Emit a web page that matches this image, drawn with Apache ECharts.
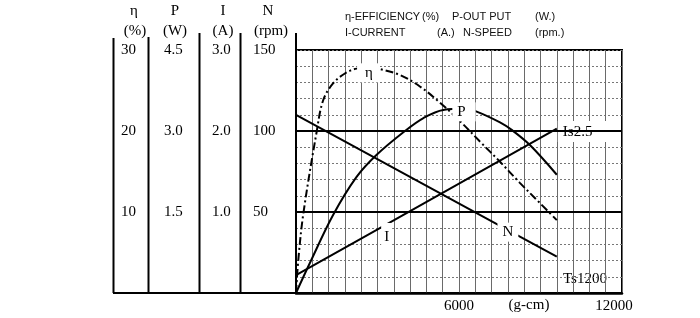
<!DOCTYPE html>
<html><head><meta charset="utf-8">
<script src="https://cdn.jsdelivr.net/npm/echarts@6/dist/echarts.min.js"></script>
<style>html,body{margin:0;padding:0;background:#fff}#c{width:700px;height:318px}</style>
</head><body><div id="c"></div>
<script>
// ---- data (torque in g-cm) ----
const effTorque = [0, 85, 270, 760, 1000, 1370, 1800, 2230, 2650, 3020, 3830, 4560, 5300, 6040, 6770, 7510, 8240, 8980, 9600];
const effValues = [0, 4.1, 9.8, 19.9, 23.8, 25.9, 27.1, 27.7, 27.8, 27.7, 26.9, 25.5, 23.5, 21.2, 18.7, 16.2, 13.6, 11.1, 9.0];
const powTorque = [0, 515, 1360, 2230, 2970, 4010, 4690, 5420, 6220, 6650, 7510, 7940, 8610, 9600];
const powValues = [0, 0.56, 1.44, 2.15, 2.56, 3.0, 3.24, 3.39, 3.41, 3.36, 3.16, 3.02, 2.74, 2.19];
const curTorque = [0, 3300, 9600];
const curValues = [0.22, 0.84, 2.03];
const spdTorque = [0, 7800, 9600];
const spdValues = [110, 38.8, 22.4];
const refSpeeds = [50, 100];
const xTickLabels = [6000, 12000];
const effLabelIdx = 8, powLabelIdx = 8, curLabelIdx = 1, spdLabelIdx = 1;

const serif = 'Liberation Serif';
const titleFont = 'Liberation Sans';

function build(ts, vs, idx, label) {
  return ts.map((t, i) => {
    const it = { value: [t, vs[i]] };
    if (i === idx) it.label = Object.assign({ show: true, position: 'inside', color: '#000',
      fontFamily: serif, fontSize: 15, backgroundColor: '#fff' }, label);
    return it;
  });
}

const chart = echarts.init(document.getElementById('c'), null, { renderer: 'canvas' });

function tableAxis(max, interval, offset, margin, dec) {
  return {
    type: 'value', min: 0, max: max, interval: interval, position: 'left', offset: offset,
    axisLine: { show: false }, axisTick: { show: false }, splitLine: { show: false },
    axisLabel: { inside: true, margin: margin, showMinLabel: false, color: '#000',
      fontFamily: serif, fontSize: 15,
      formatter: v => v === 0 ? '' : (dec ? v.toFixed(1) : String(v)) }
  };
}

const lineBase = { type: 'line', symbol: 'circle', symbolSize: 0, showSymbol: true, silent: true,
  itemStyle: { color: '#000' } };

const option = {
  animation: false,
  backgroundColor: '#fff',
  grid: { left: 296, right: 78, top: 50, bottom: 25, show: true, borderColor: '#000', borderWidth: 2,
    backgroundColor: 'transparent' },
  xAxis: {
    type: 'value', min: 0, max: 12000, interval: 600,
    axisLine: { show: true, lineStyle: { color: '#000', width: 2.5 } },
    axisTick: { show: false },
    splitLine: { show: true, lineStyle: { color: '#6a6a6a', width: 1 } },
    axisLabel: { show: true, showMaxLabel: true, margin: 6, color: '#000', fontFamily: serif, fontSize: 15,
      formatter: v => xTickLabels.indexOf(v) < 0 ? '' : (v === 12000 ? '{r|' + v + '}' : String(v)),
      rich: { r: { fontFamily: serif, fontSize: 15, color: '#000', padding: [0, 16, 0, 0] } } }
  },
  yAxis: [
    tableAxis(30, 10, 183, 8, false),
    tableAxis(4.5, 1.5, 148, 16, true),
    tableAxis(3, 1, 97, 13, true),
    tableAxis(150, 50, 56, 13, false),
    { type: 'value', min: 0, max: 150, interval: 10, position: 'left', offset: 0,
      axisLine: { show: true, lineStyle: { color: '#000', width: 2 } }, axisTick: { show: false },
      axisLabel: { show: false },
      splitLine: { show: true, lineStyle: { color: '#777', width: 1, type: [2, 2] } } }
  ],
  series: [
    Object.assign({}, lineBase, { name: 'eta', yAxisIndex: 0, smooth: 0.35,
      lineStyle: { color: '#000', width: 2, type: [8, 3, 2, 3] },
      data: build(effTorque, effValues, effLabelIdx, { formatter: 'η', offset: [0, 5], padding: [2, 6, 2, 8] }) }),
    Object.assign({}, lineBase, { name: 'P', yAxisIndex: 1, smooth: 0.35,
      lineStyle: { color: '#000', width: 2 },
      data: build(powTorque, powValues, powLabelIdx, { formatter: 'P', offset: [-1, 3], padding: [2, 10, 2, 5] }) }),
    Object.assign({}, lineBase, { name: 'I', yAxisIndex: 2,
      lineStyle: { color: '#000', width: 2 },
      endLabel: { show: true, formatter: 'Is2.5', distance: 1, offset: [0, 3], color: '#000', fontFamily: serif,
        fontSize: 15, backgroundColor: '#fff', padding: [3, 18, 3, 5] },
      data: build(curTorque, curValues, curLabelIdx, { formatter: 'I', offset: [1, 12], padding: [13, 3, 0, 3] }) }),
    Object.assign({}, lineBase, { name: 'N', yAxisIndex: 3,
      lineStyle: { color: '#000', width: 2 },
      markLine: { silent: true, symbol: 'none', label: { show: false },
        lineStyle: { color: '#000', width: 2, type: 'solid' },
        data: refSpeeds.map(s => ({ yAxis: s })) },
      data: build(spdTorque, spdValues, spdLabelIdx, { formatter: 'N', offset: [0, 2], padding: [2, 5, 2, 5] }) })
  ],
  graphic: [
    ...[[113.5, 38], [148.5, 37], [199.5, 33], [240.5, 33], [296, 33]].map(([x, y0]) => ({
      type: 'line', silent: true, shape: { x1: x, y1: y0, x2: x, y2: 293 },
      style: { stroke: '#000', lineWidth: 2 } })),
    { type: 'line', silent: true, shape: { x1: 113, y1: 293, x2: 296, y2: 293 }, style: { stroke: '#000', lineWidth: 2 } },
    ...[['η', 134, 11], ['(%)', 135, 31], ['P', 175, 11], ['(W)', 175, 31], ['I', 223, 11], ['(A)', 223, 31],
        ['N', 268, 11], ['(rpm)', 271, 31]].map(([t, x, y]) => ({
      type: 'text', silent: true, x: x, y: y,
      style: { text: t, fill: '#000', font: '15px "' + serif + '"', textAlign: 'center', textVerticalAlign: 'middle' } })),
    ...[['η-EFFICIENCY', 345, 17], ['(%)', 422, 17], ['P-OUT PUT', 452, 17], ['(W.)', 535, 17],
        ['I-CURRENT', 345, 33], ['(A.)', 437, 33], ['N-SPEED', 463, 33], ['(rpm.)', 535, 33]].map(([t, x, y]) => ({
      type: 'text', silent: true, x: x, y: y,
      style: { text: t, fill: '#111', font: '11px "' + titleFont + '"', textAlign: 'left', textVerticalAlign: 'middle' } })),
    { type: 'text', silent: true, x: 529, y: 305,
      style: { text: '(g-cm)', fill: '#000', font: '15px "' + serif + '"', textAlign: 'center', textVerticalAlign: 'middle' } },
    { type: 'text', silent: true, x: 563, y: 279,
      style: { text: 'Ts1200', fill: '#000', font: '15px "' + serif + '"', textAlign: 'left', textVerticalAlign: 'middle' } }
  ]
};
chart.setOption(option);
</script>
</body></html>
